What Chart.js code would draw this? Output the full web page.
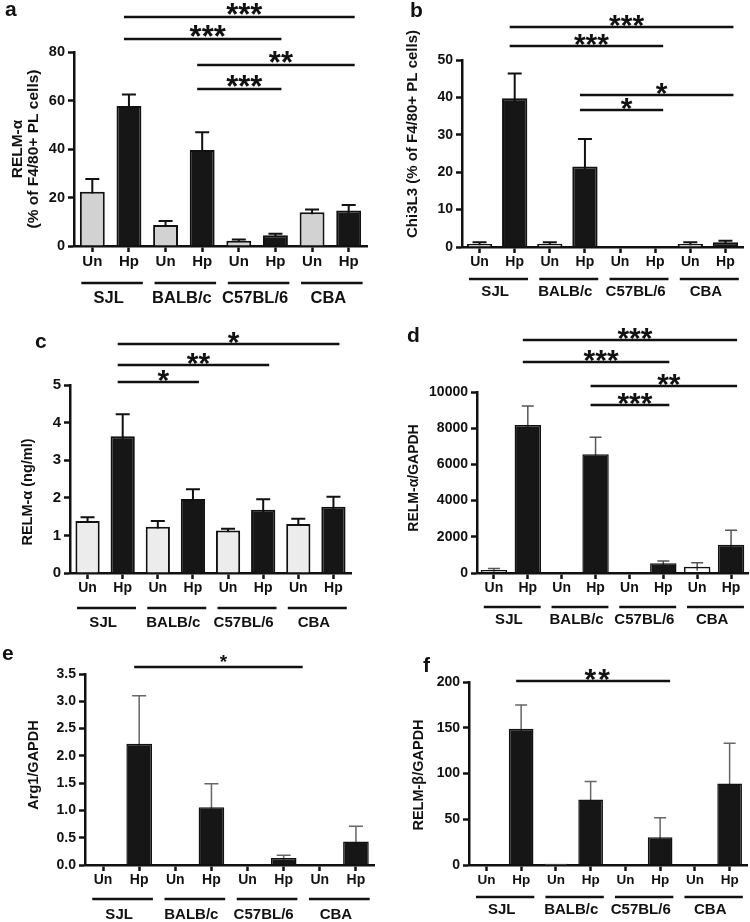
<!DOCTYPE html>
<html>
<head>
<meta charset="utf-8">
<script src="https://cdn.jsdelivr.net/npm/chart.js@4.4.1/dist/chart.umd.min.js"></script>
<style>
  body { margin: 0; background: #fff; width: 750px; height: 922px; position: relative; overflow: hidden; }
  canvas { position: absolute; }
</style>
</head>
<body>
<script>
const FONT = '"Liberation Sans", Arial, Helvetica, sans-serif';

const treatments = ['Un', 'Hp', 'Un', 'Hp', 'Un', 'Hp', 'Un', 'Hp'];
const strains = ['SJL', 'BALB/c', 'C57BL/6', 'CBA'];

// a - RELM-a, % of F4/80+ PL cells
const facsRelmMean = [22.4, 57.7, 8.7, 39.6, 2.2, 4.4, 13.9, 14.6];
const facsRelmSem = [5.2, 4.8, 1.6, 7.3, 0.5, 0.7, 1.2, 2.3];
const facsRelmTicks = [0, 20, 40, 60, 80];
const facsRelmSig = [[1, 7, '***'], [1, 5, '***'], [3, 7, '**'], [3, 5, '***']];

// b - Chi3L3, % of F4/80+ PL cells
const facsChiMean = [0.8, 39.8, 0.9, 21.5, 0.1, 0.2, 0.8, 1.3];
const facsChiSem = [0.5, 6.6, 0.4, 7.4, 0, 0, 0.5, 0.4];
const facsChiTicks = [0, 10, 20, 30, 40, 50];
const facsChiSig = [[1, 7, '***'], [1, 5, '***'], [3, 7, '*'], [3, 5, '*']];

// c - RELM-a ELISA, ng/ml
const elisaMean = [1.38, 3.64, 1.23, 1.97, 1.13, 1.68, 1.30, 1.76];
const elisaSem = [0.10, 0.58, 0.15, 0.26, 0.05, 0.28, 0.14, 0.27];
const elisaTicks = [0, 1, 2, 3, 4, 5];
const elisaSig = [[1, 7, '*'], [1, 5, '**'], [1, 3, '*']];

// d - RELM-a / GAPDH
const qRelmaMean = [160, 8180, 20, 6560, 30, 535, 340, 1560];
const qRelmaSem = [90, 1040, 0, 940, 0, 130, 220, 800];
const qRelmaTicks = [0, 2000, 4000, 6000, 8000, 10000];
const qRelmaSig = [[1, 7, '***'], [1, 5, '***'], [3, 7, '**'], [3, 5, '***']];

// e - Arg1 / GAPDH
const qArgMean = [0, 2.22, 0, 1.06, 0, 0.13, 0, 0.43];
const qArgSem = [0, 0.88, 0, 0.43, 0, 0.05, 0, 0.28];
const qArgTicks = [0, 0.5, 1.0, 1.5, 2.0, 2.5, 3.0, 3.5];
const qArgSig = [[1, 5, '*']];

// f - RELM-b / GAPDH
const qRelmbMean = [0, 149, 1.5, 71.7, 0, 30.2, 0, 89];
const qRelmbSem = [0, 26, 0, 19.5, 0, 21.5, 0, 44];
const qRelmbTicks = [0, 50, 100, 150, 200];
const qRelmbSig = [[1, 5, '**']];

// layout in page pixels
const panels = [
  { letter: 'a', letterAt: [5, 16], mean: facsRelmMean, sem: facsRelmSem, ticks: facsRelmTicks, sig: facsRelmSig,
    box: [0, 0, 375, 310], area: { l: 74, t: 52, r: 367, b: 246 }, bar: 0.68, un: '#d2d2d2', border: 2,
    err: '#111', errW: 2, cap: 14, sigY: [17, 39, 65, 89], star: 31, starGap: 0, sigExt: 6,
    tickSize: 14.5, catSize: 15, groupSize: 16.5,
    title: ['RELM-α', '(% of F4/80+ PL cells)'], titleX: [18, 34], titleY: 149, titleSize: 15.5,
    groupLineY: 283, groupLabelY: 298 },
  { letter: 'b', letterAt: [410, 17], mean: facsChiMean, sem: facsChiSem, ticks: facsChiTicks, sig: facsChiSig,
    box: [375, 0, 375, 310], area: { l: 462, t: 60, r: 743, b: 247 }, bar: 0.72, un: '#cfcfcf', border: 2,
    err: '#111', errW: 2, cap: 14, sigY: [27, 46, 95, 110], star: 30, starGap: 0, sigExt: 8,
    tickSize: 14, catSize: 14, groupSize: 15,
    title: ['Chi3L3 (% of F4/80+ PL cells)'], titleX: [413], titleY: 134, titleSize: 15,
    groupLineY: 279, groupLabelY: 292 },
  { letter: 'c', letterAt: [35, 348], mean: elisaMean, sem: elisaSem, ticks: elisaTicks, sig: elisaSig,
    box: [0, 300, 375, 330], area: { l: 70, t: 385, r: 351, b: 573 }, bar: 0.69, un: '#ececec', border: 2,
    err: '#111', errW: 2, cap: 14, sigY: [344, 365, 382], star: 30, starGap: 0, sigExt: 6,
    tickSize: 15, catSize: 14, groupSize: 15,
    title: ['RELM-α (ng/ml)'], titleX: [28], titleY: 492, titleSize: 14.5,
    groupLineY: 608, groupLabelY: 623 },
  { letter: 'd', letterAt: [407, 342], mean: qRelmaMean, sem: qRelmaSem, ticks: qRelmaTicks, sig: qRelmaSig,
    box: [375, 300, 375, 330], area: { l: 477, t: 392, r: 748, b: 573 }, bar: 0.78, un: 'rgba(255,255,255,0)', border: 1.5,
    err: '#555', errW: 1.5, cap: 12, sigY: [340, 362, 386, 405], star: 30, starGap: 0, sigExt: 6,
    tickSize: 14, catSize: 14, groupSize: 15,
    title: ['RELM-α/GAPDH'], titleX: [414], titleY: 478, titleSize: 14,
    groupLineY: 607, groupLabelY: 620 },
  { letter: 'e', letterAt: [2, 660], mean: qArgMean, sem: qArgSem, ticks: qArgTicks, sig: qArgSig,
    box: [0, 615, 375, 307], area: { l: 85, t: 674, r: 374, b: 865 }, bar: 0.71, un: '#d2d2d2', border: 1.5,
    err: '#666', errW: 1.5, cap: 14, sigY: [667], star: 19, starGap: 0, sigExt: 19, decimals: 1,
    tickSize: 14, catSize: 14, groupSize: 15,
    title: ['Arg1/GAPDH'], titleX: [34], titleY: 765, titleSize: 14.5,
    groupLineY: 899, groupLabelY: 915 },
  { letter: 'f', letterAt: [423, 672], mean: qRelmbMean, sem: qRelmbSem, ticks: qRelmbTicks, sig: qRelmbSig,
    box: [375, 615, 375, 307], area: { l: 469, t: 682, r: 747, b: 865 }, bar: 0.71, un: '#d2d2d2', border: 1.5,
    err: '#666', errW: 1.5, cap: 12, sigY: [681], star: 30, starGap: 2, sigExt: 10,
    tickSize: 14, catSize: 13.5, groupSize: 15,
    title: ['RELM-β/GAPDH'], titleX: [419], titleY: 775, titleSize: 14.5,
    groupLineY: 897, groupLabelY: 910 }
];

function makeExtras(p) {
  const ox = p.box[0], oy = p.box[1];
  return {
    id: 'extras',
    beforeDatasetsDraw(chart) {
      const { ctx } = chart;
      const y = chart.scales.y;
      const bars = chart.getDatasetMeta(0).data;
      ctx.save();
      ctx.strokeStyle = p.err;
      ctx.lineWidth = p.errW;
      bars.forEach((bar, i) => {
        const e = p.sem[i];
        if (!e) return;
        const top = y.getPixelForValue(p.mean[i] + e);
        const bot = y.getPixelForValue(Math.max(0, p.mean[i] - e));
        ctx.beginPath();
        ctx.moveTo(bar.x, bot);
        ctx.lineTo(bar.x, top);
        ctx.moveTo(bar.x - p.cap / 2, top);
        ctx.lineTo(bar.x + p.cap / 2, top);
        ctx.stroke();
      });
      ctx.restore();
    },
    afterDraw(chart) {
      const { ctx } = chart;
      const bars = chart.getDatasetMeta(0).data;
      const step = bars[1].x - bars[0].x;
      ctx.save();
      ctx.fillStyle = '#111';
      ctx.strokeStyle = '#111';

      // significance brackets
      p.sig.forEach(([from, to, stars], k) => {
        const x1 = bars[from].x - 5;
        const x2 = bars[to].x + p.sigExt;
        const ly = p.sigY[k] - oy;
        ctx.lineWidth = 2.5;
        ctx.beginPath();
        ctx.moveTo(x1, ly);
        ctx.lineTo(x2, ly);
        ctx.stroke();
        ctx.font = `bold ${p.star}px ${FONT}`;
        ctx.letterSpacing = p.starGap + 'px';
        ctx.textAlign = 'center';
        ctx.textBaseline = 'alphabetic';
        ctx.fillText(stars, (x1 + x2) / 2 + 5, ly - 9 + p.star * 0.55);
        ctx.letterSpacing = '0px';
      });

      // strain groups under the axis
      strains.forEach((s, g) => {
        const c0 = bars[g * 2].x, c1 = bars[g * 2 + 1].x;
        ctx.lineWidth = 2.5;
        ctx.beginPath();
        ctx.moveTo(c0 - 0.3 * step, p.groupLineY - oy);
        ctx.lineTo(c1 + 0.38 * step, p.groupLineY - oy);
        ctx.stroke();
        ctx.font = `bold ${p.groupSize}px ${FONT}`;
        ctx.textAlign = 'center';
        ctx.textBaseline = 'middle';
        ctx.fillText(s, (c0 + c1) / 2 - 2, p.groupLabelY - oy);
      });

      // y title
      ctx.font = `bold ${p.titleSize}px ${FONT}`;
      ctx.textAlign = 'center';
      ctx.textBaseline = 'middle';
      p.title.forEach((t, k) => {
        ctx.save();
        ctx.translate(p.titleX[k] - ox, p.titleY - oy);
        ctx.rotate(-Math.PI / 2);
        ctx.fillText(t, 0, 0);
        ctx.restore();
      });

      // panel letter
      ctx.font = `bold 21px ${FONT}`;
      ctx.textAlign = 'left';
      ctx.textBaseline = 'alphabetic';
      ctx.fillText(p.letter, p.letterAt[0] - ox, p.letterAt[1] - oy);
      ctx.restore();
    }
  };
}

panels.forEach((p) => {
  const [bx, by, bw, bh] = p.box;
  const a = p.area;
  const canvas = document.createElement('canvas');
  canvas.width = bw;
  canvas.height = bh;
  canvas.style.left = bx + 'px';
  canvas.style.top = by + 'px';
  document.body.appendChild(canvas);

  const axisColor = '#111';
  new Chart(canvas, {
    type: 'bar',
    data: {
      labels: treatments,
      datasets: [{
        data: p.mean,
        backgroundColor: treatments.map((t) => (t === 'Un' ? p.un : '#161616')),
        borderColor: '#111',
        borderWidth: p.border,
        barPercentage: p.bar,
        categoryPercentage: 1
      }]
    },
    options: {
      responsive: false,
      animation: false,
      devicePixelRatio: 1,
      layout: { padding: { left: 0, top: a.t - by, right: bx + bw - a.r, bottom: 0 } },
      plugins: { legend: { display: false }, tooltip: { enabled: false } },
      scales: {
        x: {
          grid: { offset: false, drawOnChartArea: false, tickLength: 6, tickWidth: 2.5, tickColor: axisColor },
          border: { width: 2.5, color: axisColor },
          ticks: { autoSkip: false, maxRotation: 0, padding: 1, color: axisColor, font: { family: FONT, size: p.catSize, weight: 'bold' } },
          afterFit: (s) => { s.height = by + bh - a.b; }
        },
        y: {
          min: 0,
          max: p.ticks[p.ticks.length - 1],
          grid: { drawOnChartArea: false, tickLength: 6, tickWidth: 2.5, tickColor: axisColor },
          border: { width: 2.5, color: axisColor },
          ticks: {
            padding: 3,
            color: axisColor,
            font: { family: FONT, size: p.tickSize, weight: 'bold' },
            callback: (v) => (p.decimals ? Number(v).toFixed(p.decimals) : v)
          },
          afterBuildTicks: (s) => { s.ticks = p.ticks.map((v) => ({ value: v })); },
          afterFit: (s) => { s.width = a.l - bx; }
        }
      }
    },
    plugins: [makeExtras(p)]
  });
});
</script>
</body>
</html>
